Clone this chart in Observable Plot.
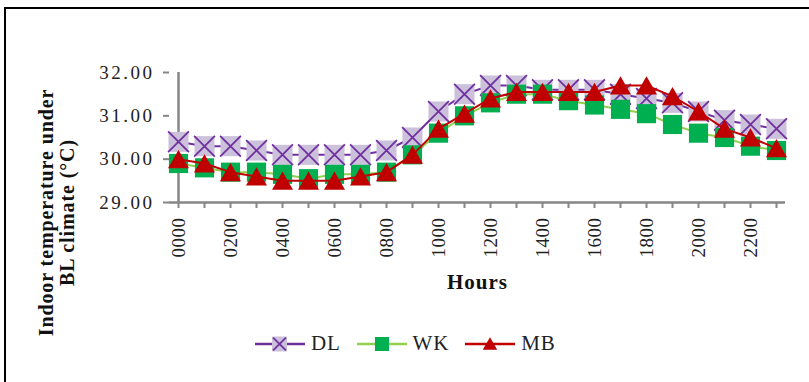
<!DOCTYPE html>
<html><head><meta charset="utf-8">
<script src="https://cdn.jsdelivr.net/npm/d3@7"></script>
<script src="https://cdn.jsdelivr.net/npm/@observablehq/plot@0.6"></script>
<style>
body{margin:0;background:#fff;}
#wrap{position:relative;width:809px;height:382px;overflow:hidden;background:#fff;}
#border{position:absolute;left:4px;top:7px;width:900px;height:500px;border-left:2px solid #000;border-top:2px solid #000;}
#chart{position:absolute;left:0;top:0;}
#legend{position:absolute;left:255px;top:331px;display:flex;align-items:center;font-family:"Liberation Serif",serif;font-size:21px;color:#222;}
#legend .item{display:flex;align-items:center;margin-right:16px;}
#legend .item span{margin-left:6px;letter-spacing:0.8px;}
#chart svg [aria-label="y-axis tick label"] text{letter-spacing:2.5px;}
#chart svg [aria-label="x-axis tick label"] text{letter-spacing:0.5px;}
#chart svg .ytitle text{letter-spacing:0.9px;}
#chart svg .xtitle text{letter-spacing:1px;}
</style>
</head><body>
<div id="wrap"><div id="border"></div><div id="chart"></div><div id="legend"></div></div>
<script>
const hours = ["0000","0100","0200","0300","0400","0500","0600","0700","0800","0900","1000","1100",
               "1200","1300","1400","1500","1600","1700","1800","1900","2000","2100","2200","2300"];
const xTickLabels = ["0000","0200","0400","0600","0800","1000","1200","1400","1600","1800","2000","2200"];
const yTicks = [29, 30, 31, 32];
const seriesNames = ["DL", "WK", "MB"];
const dl = [30.4,30.3,30.3,30.2,30.1,30.1,30.1,30.1,30.2,30.5,31.1,31.5,
            31.7,31.7,31.6,31.6,31.6,31.5,31.4,31.3,31.1,30.9,30.8,30.7];
const wk = [29.9,29.8,29.7,29.7,29.65,29.55,29.65,29.65,29.7,30.1,30.6,31.0,
            31.3,31.5,31.5,31.35,31.25,31.15,31.05,30.8,30.6,30.5,30.3,30.2];
const mb = [30.0,29.9,29.7,29.6,29.5,29.5,29.5,29.6,29.7,30.1,30.7,31.05,
            31.4,31.55,31.55,31.55,31.55,31.7,31.7,31.45,31.1,30.7,30.5,30.25];
const yTitle = "Indoor temperature under\nBL climate (°C)";
const xTitle = "Hours";

const rows = (vals) => hours.map((h, i) => ({hour: h, value: vals[i]}));
const dlRows = rows(dl), wkRows = rows(wk), mbRows = rows(mb);

const axisColor = "#868686";
const chart = Plot.plot({
  width: 809, height: 382,
  marginLeft: 169, marginRight: 24, marginTop: 72, marginBottom: 180,
  style: {fontFamily: "Liberation Serif, serif", fontSize: "19px", color: "#222", background: "transparent"},
  x: {type: "point", domain: hours, padding: 0},
  y: {domain: [29, 32]},
  marks: [
    Plot.axisY({ticks: yTicks, tickFormat: d => d.toFixed(2), tickSize: 6, tickPadding: 9,
                stroke: axisColor, strokeWidth: 2, fill: "#222", label: null}),
    Plot.axisX({tickRotate: -90, tickSize: 6, tickPadding: 9,
                tickFormat: d => xTickLabels.includes(d) ? d : "",
                stroke: axisColor, strokeWidth: 2, fill: "#222", label: null}),
    Plot.ruleX([hours[0]], {stroke: axisColor, strokeWidth: 2.5}),
    Plot.ruleY([29], {stroke: axisColor, strokeWidth: 2.5}),
    Plot.line(dlRows, {x: "hour", y: "value", stroke: "#7030a0", strokeWidth: 2}),
    Plot.dot(dlRows, {x: "hour", y: "value", symbol: "square", r: 11.3, fill: "#ccc1da"}),
    Plot.dot(dlRows, {x: "hour", y: "value", symbol: "times", r: 9.5, stroke: "#7030a0", strokeWidth: 1.8}),
    Plot.line(wkRows, {x: "hour", y: "value", stroke: "#92d050", strokeWidth: 2}),
    Plot.dot(wkRows, {x: "hour", y: "value", symbol: "square", r: 10.8, fill: "#00b050"}),
    Plot.line(mbRows, {x: "hour", y: "value", stroke: "#c00000", strokeWidth: 2}),
    Plot.dot(mbRows, {x: "hour", y: "value", symbol: "triangle", r: 7.8, fill: "#c00000", dy: 2.9}),
    Plot.text([yTitle], {text: d => d, frameAnchor: "bottom-left", dx: -96, dy: 10, rotate: -90,
                         fontWeight: "bold", fontSize: 20, lineHeight: 1.05, fill: "#111",
                         textAnchor: "middle", className: "ytitle"}),
    Plot.text([xTitle], {text: d => d, frameAnchor: "bottom", dy: 86, fontWeight: "bold", fontSize: 21,
                         fill: "#111", className: "xtitle"})
  ]
});
document.getElementById("chart").appendChild(chart);

// legend
const legendStyle = {
  DL: {line: "#7030a0", draw: g => {
    g.append("rect").attr("x", 17).attr("y", 2.5).attr("width", 15).attr("height", 15).attr("fill", "#ccc1da");
    g.append("path").attr("d", d3.symbol(d3.symbolTimes, 110)()).attr("transform", "translate(24.5,10)")
      .attr("stroke", "#7030a0").attr("stroke-width", 1.8).attr("fill", "none");
  }},
  WK: {line: "#92d050", draw: g => {
    g.append("rect").attr("x", 18).attr("y", 3).attr("width", 14).attr("height", 14).attr("fill", "#00b050");
  }},
  MB: {line: "#c00000", draw: g => {
    g.append("path").attr("d", d3.symbol(d3.symbolTriangle, 90)()).attr("transform", "translate(25,11.5)")
      .attr("fill", "#c00000");
  }}
};
const legend = d3.select("#legend");
for (const name of seriesNames) {
  const item = legend.append("div").attr("class", "item");
  const svg = item.append("svg").attr("width", 50).attr("height", 20);
  svg.append("line").attr("x1", 0).attr("x2", 50).attr("y1", 10).attr("y2", 10)
    .attr("stroke", legendStyle[name].line).attr("stroke-width", 2.5);
  legendStyle[name].draw(svg.append("g"));
  item.append("span").text(name);
}
</script>
</body></html>
